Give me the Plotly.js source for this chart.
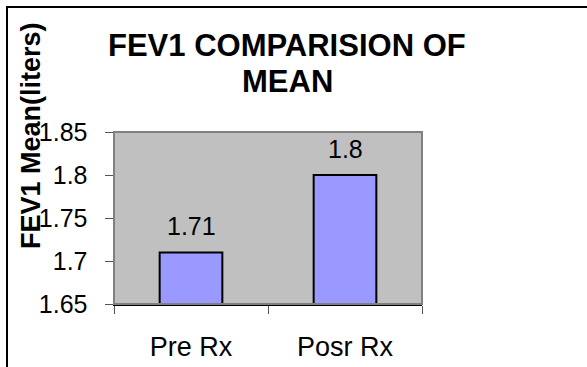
<!DOCTYPE html>
<html>
<head>
<meta charset="utf-8">
<script src="https://cdn.plot.ly/plotly-3.0.1.min.js"></script>
<style>
  html, body { margin: 0; padding: 0; background: #fff; }
  #wrap { position: relative; width: 587px; height: 367px; overflow: hidden; }
  #chart { width: 587px; height: 367px; }
  #frame { position: absolute; left: 6px; top: 6px; width: 700px; height: 500px;
           border-left: 2px solid #000; border-top: 2px solid #000; pointer-events: none; }
</style>
</head>
<body>
<div id="wrap">
  <div id="chart"></div>
  <div id="frame"></div>
</div>
<script>
// Data
const categories = ["Pre Rx", "Posr Rx"];
const meanValues = [1.71, 1.8];
const barLabels = ["1.71", "1.8"];
const titleLines = ["FEV1 COMPARISION OF", "MEAN"];
const yTitle = "FEV1 Mean(liters)";

const FONT = "Liberation Sans, Arial, Helvetica, sans-serif";

const trace = {
  type: "bar",
  x: categories,
  y: meanValues,
  marker: { color: "#9999FF", line: { color: "#000000", width: 2 } },
  hoverinfo: "none"
};

// plot area geometry (pixels)
const L = 114, R = 422, T = 132, B = 304;
const W = 587, H = 367;
const px = (x) => (x - L) / (R - L);
const py = (y) => (B - y) / (B - T);

const annotations = [];
categories.forEach((c, i) => {
  annotations.push({
    x: c, y: meanValues[i], xref: "x", yref: "y",
    text: barLabels[i], showarrow: false,
    xanchor: "center", yanchor: "bottom", yshift: 10,
    font: { family: FONT, size: 25, color: "#000" }
  });
});
annotations.push({
  x: px(287), y: py(45), xref: "paper", yref: "paper",
  text: "<b>" + titleLines[0] + "</b>", showarrow: false,
  xanchor: "center", yanchor: "middle",
  font: { family: FONT, size: 31, color: "#000" }
});
annotations.push({
  x: px(287), y: py(81.5), xref: "paper", yref: "paper",
  text: "<b>" + titleLines[1] + "</b>", showarrow: false,
  xanchor: "center", yanchor: "middle",
  font: { family: FONT, size: 31, color: "#000" }
});
annotations.push({
  x: px(31), y: py(136), xref: "paper", yref: "paper",
  text: "<b>" + yTitle + "</b>", showarrow: false, textangle: -90,
  xanchor: "center", yanchor: "middle",
  font: { family: FONT, size: 27, color: "#000" }
});

const layout = {
  width: W, height: H,
  margin: { l: L, r: W - R, t: T, b: H - B, pad: 0 },
  paper_bgcolor: "rgba(0,0,0,0)",
  plot_bgcolor: "#C0C0C0",
  showlegend: false,
  bargap: 0.593,
  font: { family: FONT, color: "#000" },
  xaxis: {
    type: "category",
    showline: true, linecolor: "#000", linewidth: 1.5,
    ticks: "outside", tickson: "boundaries", ticklen: 8, tickcolor: "#555", tickwidth: 1,
    tickfont: { family: FONT, size: 27, color: "#000" },
    ticklabelstandoff: 18,
    showgrid: false, zeroline: false, fixedrange: true
  },
  yaxis: {
    range: [1.65, 1.85], dtick: 0.05, tick0: 1.65,
    showline: true, linecolor: "#707070", linewidth: 1.5,
    ticks: "outside", ticklen: 8, tickcolor: "#555", tickwidth: 1,
    tickfont: { family: FONT, size: 25, color: "#000" },
    ticklabelstandoff: 12,
    showgrid: false, zeroline: false, fixedrange: true
  },
  shapes: [{
    type: "rect", xref: "paper", yref: "paper", x0: 0, x1: 1, y0: 0, y1: 1,
    line: { color: "#808080", width: 2 }, layer: "above"
  }],
  annotations: annotations
};

Plotly.newPlot("chart", [trace], layout, { staticPlot: true, displayModeBar: false });
</script>
</body>
</html>
